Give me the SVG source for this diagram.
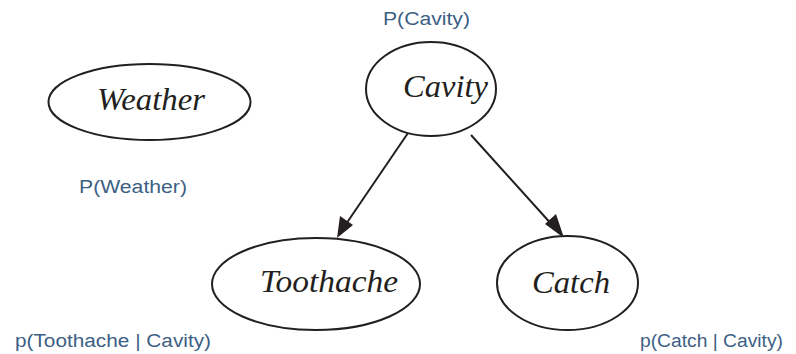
<svg xmlns="http://www.w3.org/2000/svg" width="796" height="354" viewBox="0 0 796 354">
  <defs>
    <style>
      .node ellipse { fill: #ffffff; stroke: #231f20; stroke-width: 2; }
      .node text { font-family: "Liberation Serif", "Times New Roman", serif; font-style: italic; font-size: 32px; fill: #231f20; text-anchor: middle; }
      .cpt { font-family: "Liberation Sans", Arial, sans-serif; font-size: 18px; fill: #3d5f85; }
      .edge { stroke: #231f20; stroke-width: 2; fill: none; }
      .head { fill: #231f20; }
    </style>
  </defs>
  <rect width="796" height="354" fill="#ffffff"/>

  <g id="connectors">
    <path class="edge" d="M408,133 L344,227"/>
    <polygon class="head" points="337,238 340,216 353,225"/>
    <path class="edge" d="M471,135 L554,227"/>
    <polygon class="head" points="564,238 545,224 556,214"/>
  </g>

  <g id="weather" class="node">
    <ellipse cx="149.5" cy="102" rx="101" ry="38"/>
    <text x="151" y="110" textLength="108" lengthAdjust="spacingAndGlyphs">Weather</text>
  </g>
  <g id="cavity" class="node">
    <ellipse cx="431" cy="89" rx="65" ry="47"/>
    <text x="445.5" y="97" textLength="85" lengthAdjust="spacingAndGlyphs">Cavity</text>
  </g>
  <g id="toothache" class="node">
    <ellipse cx="316" cy="284" rx="104" ry="46"/>
    <text x="329" y="292" textLength="138" lengthAdjust="spacingAndGlyphs">Toothache</text>
  </g>
  <g id="catch" class="node">
    <ellipse cx="567.5" cy="283" rx="70.5" ry="47"/>
    <text x="571" y="293" textLength="78" lengthAdjust="spacingAndGlyphs">Catch</text>
  </g>

  <g id="labels">
    <text class="cpt" x="79" y="193" textLength="108" lengthAdjust="spacingAndGlyphs">P(Weather)</text>
    <text class="cpt" x="383" y="25" textLength="87" lengthAdjust="spacingAndGlyphs">P(Cavity)</text>
    <text class="cpt" x="15" y="347" textLength="196" lengthAdjust="spacingAndGlyphs">p(Toothache | Cavity)</text>
    <text class="cpt" x="640" y="347" textLength="143" lengthAdjust="spacingAndGlyphs">p(Catch | Cavity)</text>
  </g>
</svg>
